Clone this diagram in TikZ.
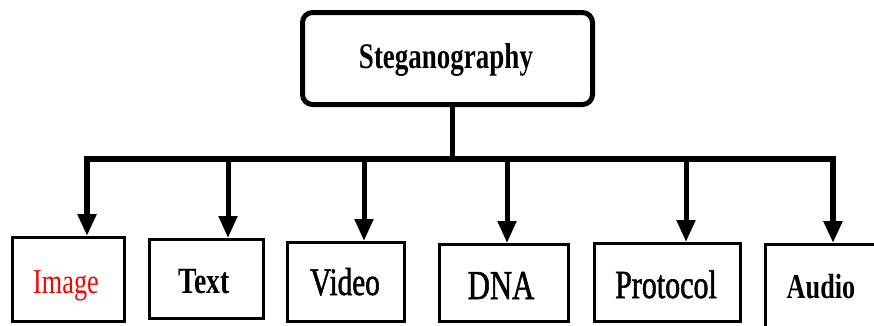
\documentclass[tikz,border=0pt]{standalone}
\usepackage{fontspec}
\newfontfamily\cond[FakeStretch=0.75]{Liberation Serif}
\newfontfamily\condm[FakeStretch=0.75,FakeBold=1.3]{Liberation Serif}
\usetikzlibrary{arrows.meta}

\tikzset{
  rootbox/.style={draw, line width=5pt, rounded corners=10pt, minimum width=290pt, minimum height=92pt, inner sep=0pt},
  leafbox/.style={draw, line width=3pt, inner sep=0pt},
  lbl/.style={anchor=base, inner sep=0pt},
  link/.style={line width=5pt, -{Triangle[width=18pt,length=22pt]}},
  trunk/.style={line width=6pt, miter limit=10},
}

\begin{document}
\begin{tikzpicture}[x=1pt,y=-1pt]
\useasboundingbox (0,0) rectangle (874,325);

% root
\node[rootbox] (root) at (447.5,58.5) {};
\node[lbl] (rootL) at (446,68) {\cond\fontsize{36}{36}\selectfont\bfseries Steganography};

% leaves
\node[leafbox, minimum width=112pt, minimum height=84pt] (img) at (68.5,279.5) {};
\node[leafbox, minimum width=114pt, minimum height=79pt] (txt) at (206.5,279) {};
\node[leafbox, minimum width=117pt, minimum height=79pt] (vid) at (346,282) {};
\node[leafbox, minimum width=129pt, minimum height=77pt] (dna) at (504,283) {};
\node[leafbox, minimum width=146pt, minimum height=78pt] (pro) at (667.5,282.5) {};
\node[leafbox, minimum width=113pt, minimum height=84pt] (aud) at (822,286.5) {};

\node[lbl, text=red] (imgL) at (66,293) {\cond\fontsize{35}{35}\selectfont Image};
\node[lbl] (txtL) at (204,293) {\cond\fontsize{37}{37}\selectfont\bfseries Text};
\node[lbl] (vidL) at (345,295) {\condm\fontsize{39}{39}\selectfont Video};
\node[lbl] (dnaL) at (501,299) {\condm\fontsize{41}{41}\selectfont DNA};
\node[lbl] (proL) at (666,298) {\condm\fontsize{40}{40}\selectfont Protocol};
\node[lbl] (audL) at (821,298) {\cond\fontsize{35}{35}\selectfont\bfseries Audio};

% distribution bar
\coordinate (bImg) at (87,159);
\coordinate (bTxt) at (228,159);
\coordinate (bVid) at (364,159);
\coordinate (bRoot) at (452,159);
\coordinate (bDna) at (507,159);
\coordinate (bPro) at (686,159);
\coordinate (bAud) at (833,159);

\draw[line width=5pt] (root.south -| bRoot) -- (bRoot);
\draw[trunk, {Triangle[width=18pt,length=22pt]}-{Triangle[width=18pt,length=22pt]}]
  (bImg |- img.north) -- (bImg) -- (bAud) -- (bAud |- aud.north);
\draw[link] (bTxt) -- (bTxt |- txt.north);
\draw[link] (bVid) -- (bVid |- vid.north);
\draw[link] (bDna) -- (bDna |- dna.north);
\draw[link] (bPro) -- (bPro |- pro.north);
\end{tikzpicture}
\end{document}
